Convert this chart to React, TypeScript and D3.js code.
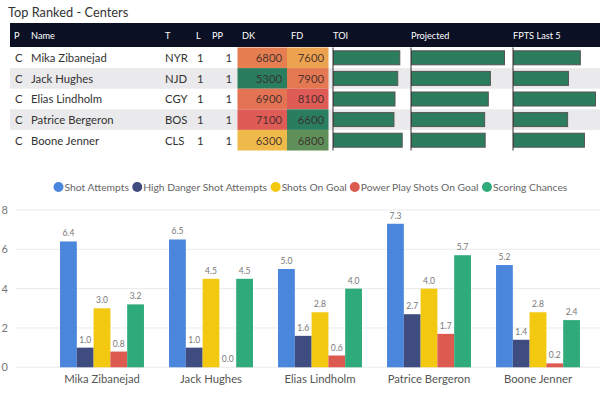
import React from "react";
import * as d3 from "d3";

const players = ["Mika Zibanejad", "Jack Hughes", "Elias Lindholm", "Patrice Bergeron", "Boone Jenner"];
const positions = ["C", "C", "C", "C", "C"];
const teams = ["NYR", "NJD", "CGY", "BOS", "CLS"];
const lines = [1, 1, 1, 1, 1];
const ppUnits = [1, 1, 1, 1, 1];
const dkSalary = [6800, 5300, 6900, 7100, 6300];
const fdSalary = [7600, 7900, 8100, 6600, 6800];
const toi = [19.3, 18.7, 17.9, 17.6, 20.0];
const projected = [17.8, 15.1, 14.7, 14.0, 14.1];
const fptsLast5 = [16.3, 13.4, 20.0, 13.2, 17.3];

const seriesNames = ["Shot Attempts", "High Danger Shot Attempts", "Shots On Goal", "Power Play Shots On Goal", "Scoring Chances"];
const shotAttempts = [6.4, 6.5, 5.0, 7.3, 5.2];
const highDanger = [1.0, 1.0, 1.6, 2.7, 1.4];
const shotsOnGoal = [3.0, 4.5, 2.8, 4.0, 2.8];
const ppShots = [0.8, 0.0, 0.6, 1.7, 0.2];
const scoringChances = [3.2, 4.5, 4.0, 5.7, 2.4];
const yTicks = [0, 2, 4, 6, 8];

const seriesValues = [shotAttempts, highDanger, shotsOnGoal, ppShots, scoringChances];
const seriesColors = ["#4A86DB", "#3E4C80", "#F2C811", "#DD5A50", "#2FAA7B"];

const FONT = "Lato, 'Segoe UI', sans-serif";

function measure(text: string, font: string) {
  const c = document.createElement("canvas").getContext("2d");
  if (!c) return text.length * 6;
  c.font = font;
  return c.measureText(text).width;
}

export default function App() {
  const W = 600, H = 399;
  const headerTop = 23, headerH = 24;
  const rowTop = 47.5, rowH = 20.6;
  const rowY = d3.scaleBand<number>().domain(d3.range(players.length)).range([rowTop, rowTop + rowH * players.length]);

  const dkColor = d3.scaleLinear<string>()
    .domain([d3.min(dkSalary)!, (d3.min(dkSalary)! + d3.max(dkSalary)!) / 2, d3.max(dkSalary)!])
    .range(["#2A7D5E", "#F2C64A", "#DF5B55"]);
  const fdColor = d3.scaleLinear<string>()
    .domain([d3.min(fdSalary)!, (d3.min(fdSalary)! + d3.max(fdSalary)!) / 2, d3.max(fdSalary)!])
    .range(["#2A7D5E", "#F2C64A", "#DF5B55"]);

  const barCols = [
    { name: "TOI", x: 333, w: 68.7, data: toi },
    { name: "Projected", x: 411, w: 93, data: projected },
    { name: "FPTS Last 5", x: 513, w: 82, data: fptsLast5 },
  ];

  const x0 = d3.scaleBand<string>().domain(players).range([47.5, 592.5]).paddingInner(0.23).paddingOuter(0.115);
  const x1 = d3.scaleBand<number>().domain(d3.range(seriesNames.length)).range([0, x0.bandwidth()]);
  const y = d3.scaleLinear().domain([0, 8]).range([367.3, 210]);

  const legSize = 10.3;
  const legFont = `${legSize}px ${FONT}`;
  let lx = 53.5;
  const legendItems = seriesNames.map((n, i) => {
    const item = { n, i, cx: lx + 5, tx: lx + 11 };
    lx = item.tx + measure(n, legFont) + 3;
    return item;
  });

  const header = [
    { t: "P", x: 14 }, { t: "Name", x: 31 }, { t: "T", x: 165 }, { t: "L", x: 196 }, { t: "PP", x: 212 },
    { t: "DK", x: 242 }, { t: "FD", x: 291 }, { t: "TOI", x: 333 }, { t: "Projected", x: 411 }, { t: "FPTS Last 5", x: 513 },
  ];
  const fs = 11.3;

  return (
    <svg width={W} height={H} style={{ position: "absolute", left: 0, top: 0, background: "#fff" }} fontFamily={FONT}>
      <text x={8} y={17} fontSize={12.8} fill="#333">Top Ranked - Centers</text>
      <rect x={10} y={headerTop} width={590} height={headerH} fill="#0B1024" />
      {header.map((h) => (
        <text key={h.t} x={h.x} y={headerTop + 15.5} fontSize={9.2} fill="#fff">{h.t}</text>
      ))}
      {players.map((p, i) => {
        const ty = rowY(i)!;
        const cy = ty + rowH / 2;
        return (
          <g key={p}>
            {i % 2 === 1 && <rect x={10} y={ty} width={590} height={rowH} fill="#EAEAEC" />}
            <text x={15} y={cy + 4.3} fontSize={fs} fill="#333">{positions[i]}</text>
            <text x={31} y={cy + 4.3} fontSize={fs} fill="#333">{p}</text>
            <text x={165} y={cy + 4.3} fontSize={fs} fill="#333">{teams[i]}</text>
            <text x={197} y={cy + 4.3} fontSize={fs} fill="#333">{lines[i]}</text>
            <text x={232} y={cy + 4.3} fontSize={fs} fill="#333" textAnchor="end">{ppUnits[i]}</text>
            <rect x={237.5} y={ty} width={49.5} height={rowH} fill={dkColor(dkSalary[i])} />
            <text x={282} y={cy + 4.3} fontSize={fs} fill="#3a2a2a" fillOpacity={0.9} textAnchor="end">{dkSalary[i]}</text>
            <rect x={287} y={ty} width={41.5} height={rowH} fill={fdColor(fdSalary[i])} />
            <text x={324} y={cy + 4.3} fontSize={fs} fill="#3a2a2a" fillOpacity={0.9} textAnchor="end">{fdSalary[i]}</text>
            {barCols.map((c) => {
              const s = d3.scaleLinear().domain([0, d3.max(c.data)!]).range([0, c.w]);
              return (
                <rect key={c.name} x={c.x + 0.5} y={cy - 7} width={s(c.data[i])} height={14} fill="#2B7D5E" stroke="#555" strokeWidth={1} />
              );
            })}
          </g>
        );
      })}
      {barCols.map((c) => (
        <line key={c.name} x1={c.x} x2={c.x} y1={rowTop} y2={rowTop + rowH * players.length} stroke="#333" strokeWidth={1} />
      ))}

      {legendItems.map((it) => (
        <g key={it.n}>
          <circle cx={it.cx} cy={187} r={5} fill={seriesColors[it.i]} />
          <text x={it.tx} y={190.8} fontSize={legSize} fill="#666">{it.n}</text>
        </g>
      ))}

      {yTicks.map((t) => (
        <g key={t}>
          <line x1={16} x2={600} y1={y(t)} y2={y(t)} stroke="#EBEBEB" strokeWidth={1} />
          <text x={8} y={y(t) + 4} fontSize={11} fill="#777" textAnchor="end">{t}</text>
        </g>
      ))}

      {players.map((p, gi) => (
        <g key={p} transform={`translate(${x0(p)},0)`}>
          {seriesValues.map((vals, si) => {
            const v = vals[gi];
            const bx = x1(si)!;
            return (
              <g key={si}>
                <rect x={bx} y={y(v)} width={x1.bandwidth()} height={y(0) - y(v)} fill={seriesColors[si]} />
                <text x={bx + x1.bandwidth() / 2} y={y(v) - 5} fontSize={8.5} fill="#777" textAnchor="middle">{v.toFixed(1)}</text>
              </g>
            );
          })}
          <text x={x0.bandwidth() / 2} y={382.5} fontSize={11.3} fill="#555" textAnchor="middle">{p}</text>
        </g>
      ))}
    </svg>
  );
}
